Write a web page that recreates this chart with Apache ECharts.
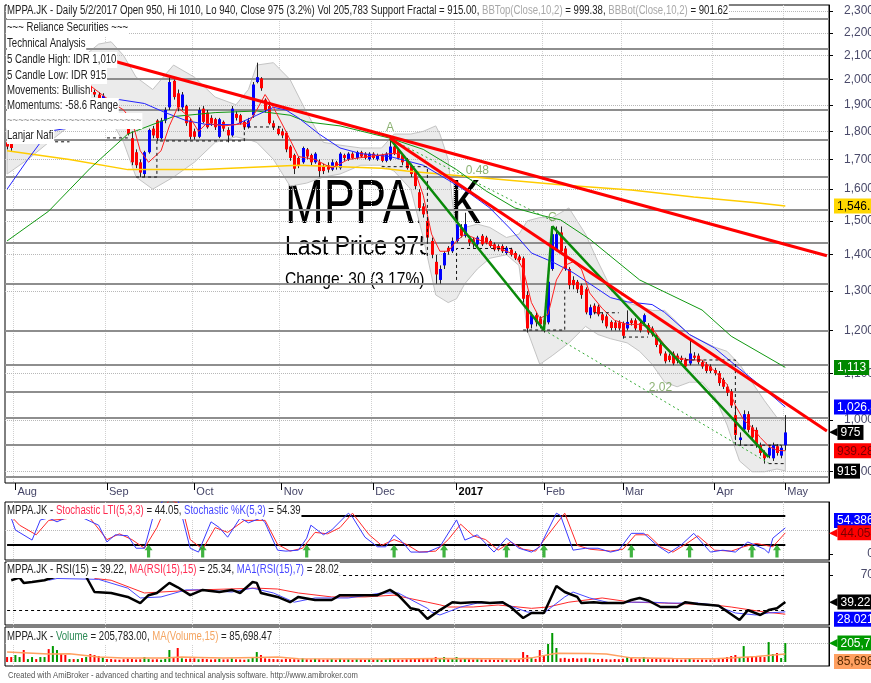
<!DOCTYPE html>
<html>
<head>
<meta charset="utf-8">
<script src="https://cdn.jsdelivr.net/npm/echarts@6/dist/echarts.min.js"></script>
<style>
  html, body { margin: 0; padding: 0; background: #fff; }
  #chart { width: 871px; height: 683px; }
</style>
</head>
<body>
<div id="chart"></div>
<script>
const SANS = '"Liberation Sans", Arial, sans-serif'

// daily bars, 28 Jul 2016 .. 2 May 2017 (index 0..187), 10 empty slots on the right
const opens = [
  1760,1765,1890,1900,1930,1915,1950,1975,1960,1990, 2010,1985,2020,2040,2010,1990,2000,1970,1985,1960,
  1975,1950,1940,1925,1900,1890,1880,1850,1845,1835, 1775,1725,1690,1650,1725,1810,1840,1775,1840,1890,
  1995,1945,1890,1895,1840,1800,1780,1885,1870,1850, 1845,1780,1835,1805,1785,1865,1860,1835,1815,1860,
  1990,2005,1920,1895,1830,1810,1800,1795,1745,1715, 1705,1690,1735,1715,1690,1690,1675,1680,1665,1690,
  1670,1715,1700,1720,1705,1725,1720,1700,1720,1700, 1715,1695,1700,1745,1735,1715,1700,1680,1660,1590,
  1545,1500,1440,1380,1330,1370,1420,1410,1440,1480, 1455,1445,1445,1430,1455,1450,1440,1430,1425,1425,
  1405,1415,1405,1395,1390,1290,1215,1238,1230,1225, 1220,1360,1415,1465,1418,1360,1330,1325,1315,1305,
  1238,1262,1260,1240,1235,1221,1220,1220,1218,1205, 1225,1225,1218,1221,1213,1205,1187,1166,1145,1140,
  1145,1140,1135,1130,1122,1140,1140,1125,1120,1115, 1107,1100,1085,1070,1060,1010,960,981,1012,985,
  980,950,935,930,925,948,930,950
]
const closes = [
  1745,1740,1900,1930,1915,1950,1975,1960,1990,2010, 1985,2020,2040,2010,1990,2000,1970,1985,1960,1975,
  1950,1940,1925,1935,1890,1880,1870,1845,1835,1790, 1690,1680,1655,1725,1805,1785,1775,1840,1880,1990,
  1930,1890,1940,1830,1780,1780,1880,1835,1815,1830, 1815,1845,1810,1785,1885,1850,1830,1815,1840,1980,
  2010,1965,1880,1830,1815,1790,1785,1735,1705,1668, 1680,1740,1710,1690,1720,1660,1660,1665,1690,1675,
  1720,1705,1720,1705,1725,1710,1705,1720,1705,1715, 1695,1720,1745,1720,1705,1690,1670,1650,1610,1540,
  1520,1450,1400,1345,1360,1405,1410,1440,1490,1455, 1490,1435,1430,1450,1430,1435,1425,1415,1415,1410,
  1420,1400,1390,1385,1280,1205,1238,1220,1215,1215, 1325,1460,1460,1410,1360,1316,1316,1305,1290,1245,
  1258,1245,1240,1225,1210,1206,1206,1205,1187,1221, 1218,1205,1200,1238,1195,1190,1165,1145,1127,1130,
  1122,1128,1130,1115,1145,1135,1125,1115,1105,1105, 1100,1078,1070,1057,1030,970,965,1012,980,965,
  950,935,925,945,950,935,945,975
]
const highs = [
  1775,1790,1910,1940,1945,1960,1990,1985,2000,2025, 2020,2035,2050,2045,2020,2010,2005,1995,1990,1985,
  1980,1960,1950,1945,1905,1895,1885,1855,1850,1840, 1800,1735,1700,1730,1810,1820,1845,1850,1890,2010,
  2000,1960,1950,1900,1850,1810,1890,1895,1880,1860, 1850,1850,1840,1815,1895,1875,1865,1840,1850,1990,
  2070,2010,1925,1910,1840,1820,1810,1800,1750,1720, 1710,1745,1740,1720,1725,1700,1685,1690,1700,1695,
  1725,1720,1725,1725,1730,1730,1725,1725,1725,1720, 1720,1725,1785,1750,1740,1720,1705,1685,1665,1600,
  1555,1510,1450,1400,1370,1410,1425,1450,1525,1490, 1525,1455,1450,1455,1460,1455,1445,1435,1430,1430,
  1425,1420,1410,1400,1395,1300,1245,1245,1235,1230, 1330,1483,1483,1483,1425,1365,1340,1330,1320,1310,
  1265,1268,1265,1245,1240,1225,1225,1225,1222,1250, 1230,1230,1222,1242,1218,1210,1192,1170,1150,1145,
  1150,1145,1140,1135,1180,1148,1145,1130,1125,1120, 1112,1105,1090,1075,1065,1030,975,1020,1018,990,
  985,955,940,950,955,952,950,1010
]
const lows = [
  1735,1730,1880,1895,1905,1910,1945,1950,1955,1985, 1975,1980,2010,2000,1980,1980,1960,1965,1950,1950,
  1940,1930,1915,1915,1885,1875,1865,1840,1830,1785, 1680,1670,1640,1640,1720,1775,1765,1770,1830,1880,
  1920,1875,1880,1820,1770,1770,1775,1830,1810,1820, 1805,1775,1800,1760,1780,1840,1825,1805,1810,1850,
  1985,1955,1870,1825,1805,1785,1775,1725,1695,1650, 1670,1685,1700,1680,1685,1640,1650,1655,1660,1665,
  1665,1695,1695,1700,1700,1705,1700,1695,1700,1695, 1690,1690,1695,1715,1700,1680,1665,1640,1600,1530,
  1510,1440,1390,1320,1320,1360,1400,1405,1435,1450, 1450,1425,1420,1425,1425,1430,1420,1410,1410,1405,
  1400,1395,1385,1375,1270,1195,1205,1210,1205,1195, 1215,1355,1410,1405,1355,1305,1305,1295,1280,1240,
  1230,1240,1235,1218,1205,1200,1200,1200,1180,1200, 1212,1200,1195,1215,1190,1185,1160,1140,1122,1125,
  1118,1122,1125,1110,1118,1130,1120,1110,1100,1100, 1095,1072,1065,1050,1025,960,950,975,975,960,
  945,930,915,925,920,930,925,940
]
const volumes = [
  54000,54000,76000,54000,130000,32000,54000,32000,54000,54000, 140000,173000,130000,87000,76000,32000,32000,32000,43000,54000,
  87000,76000,65000,54000,32000,32000,28000,25000,30000,35000, 32000,28000,30000,54000,32000,28000,30000,25000,35000,130000,
  43000,152000,40000,35000,38000,40000,30000,35000,32000,28000, 30000,35000,28000,30000,38000,30000,28000,25000,30000,45000,
  108000,76000,40000,35000,32000,30000,28000,35000,32000,30000, 28000,40000,30000,28000,35000,30000,25000,28000,32000,25000,
  35000,28000,30000,25000,30000,28000,25000,30000,28000,30000, 25000,30000,40000,30000,28000,25000,30000,32000,35000,40000,
  35000,38000,35000,54000,40000,54000,30000,35000,54000,30000, 40000,30000,28000,30000,28000,25000,28000,25000,25000,28000,
  30000,25000,28000,30000,108000,76000,43000,35000,130000,65000, 195000,314000,152000,40000,45000,35000,43000,38000,40000,45000,
  40000,35000,32000,35000,30000,28000,32000,30000,35000,54000, 43000,32000,35000,54000,30000,32000,35000,32000,30000,28000,
  30000,28000,25000,28000,35000,28000,25000,28000,25000,28000, 30000,35000,43000,54000,65000,76000,54000,173000,54000,65000,
  54000,60000,54000,216000,87000,98000,43000,205783
]

// overlays as [bar, value]
const bbUpper = [[0,1810],[5,1830],[10,1950],[15,2050],[20,2120],[22,2150],[25,2160],[28,2100],[31,2010],[35,1960],[40,2060],[45,2010],[50,1930],[55,1900],[58,1960],[60,2060],[64,2070],[68,2000],[72,1870],[76,1760],[80,1750],[85,1740],[90,1740],[93,1790],[97,1790],[100,1800],[103,1820],[104,1790],[106,1700],[107,1560],[108,1470],[110,1480],[113,1490],[116,1480],[120,1450],[123,1460],[125,1500],[128,1510],[131,1510],[135,1540],[139,1460],[142,1380],[145,1310],[149,1270],[152,1260],[155,1250],[158,1250],[161,1220],[164,1190],[167,1175],[170,1160],[173,1150],[176,1120],[179,1080],[182,1040],[185,1005],[187,999.38]]
const bbLower = [[0,1650],[5,1700],[10,1760],[15,1820],[20,1850],[22,1860],[25,1840],[28,1760],[31,1640],[35,1600],[40,1640],[45,1690],[50,1760],[55,1780],[58,1770],[60,1760],[64,1700],[68,1610],[72,1620],[76,1640],[80,1650],[85,1680],[90,1680],[93,1660],[97,1600],[100,1450],[103,1290],[106,1270],[108,1280],[110,1320],[113,1360],[116,1390],[120,1400],[123,1370],[125,1200],[128,1120],[131,1140],[135,1170],[139,1210],[142,1190],[145,1180],[149,1170],[152,1150],[155,1120],[158,1080],[161,1070],[164,1080],[167,1080],[170,1050],[173,990],[176,920],[179,900],[182,900],[185,905],[187,901.62]]
const maRed = [[0,1750],[2,1790],[6,1890],[10,1970],[15,2000],[20,1975],[26,1900],[28,1880],[30,1840],[32,1730],[34,1690],[37,1730],[39,1820],[41,1890],[44,1850],[46,1800],[48,1830],[52,1820],[55,1825],[58,1830],[60,1880],[62,1940],[64,1890],[67,1800],[70,1710],[74,1700],[78,1670],[82,1700],[87,1710],[92,1720],[95,1720],[98,1660],[100,1580],[102,1460],[104,1410],[106,1410],[108,1440],[110,1460],[114,1440],[118,1420],[122,1400],[124,1360],[126,1270],[128,1230],[130,1240],[132,1330],[134,1370],[136,1380],[138,1360],[140,1295],[143,1255],[146,1225],[149,1215],[152,1215],[155,1205],[158,1165],[161,1135],[164,1130],[167,1130],[170,1105],[173,1075],[175,1030],[177,1000],[179,985],[181,965],[183,948],[185,940],[187,939.28]]
const maBlue = [[0,1600],[5,1700],[10,1800],[14,1810],[20,1870],[27,1920],[33,1905],[38,1870],[43,1840],[48,1825],[55,1825],[60,1860],[64,1890],[67,1880],[70,1850],[75,1790],[80,1740],[85,1720],[92,1710],[96,1695],[100,1680],[106,1630],[111,1588],[116,1540],[121,1475],[126,1405],[131,1380],[136,1350],[140,1320],[145,1283],[149,1272],[155,1265],[158,1245],[164,1190],[170,1158],[176,1110],[182,1065],[187,1026.8]]
const maGreen = [[0,1440],[10,1530],[20,1670],[29,1790],[40,1855],[50,1870],[60,1876],[68,1860],[72,1835],[80,1820],[92,1775],[100,1735],[108,1665],[115,1595],[122,1540],[129,1515],[133,1503],[140,1445],[152,1330],[167,1251],[174,1186],[187,1113]]
const maYellow = [[0,1730],[15,1700],[29,1665],[47,1665],[70,1680],[90,1670],[96,1660],[108,1645],[120,1630],[135,1612],[150,1597],[165,1575],[180,1556],[187,1546.1]]

const redTrends = [[[26,2075],[197,1397]], [[92,1775],[197,978]]]
const greenTrends = [[[92,1773],[129,1201]], [[129,1201],[131,1484]], [[131,1484],[183,927]]]
const greenDotted = [[[92,1773],[131,1500]], [[129,1201],[183,916]]]
const fractals = [
  [[0,1762],[15,1762]],
  [[24,1776],[29,1776]],
  [[31,1640],[36,1640],[36,1765],[57,1765],[57,1816],[66,1816]],
  [[90,1675],[101,1675],[101,1390]],
  [[108,1330],[108,1418],[122,1418]],
  [[124,1201],[134,1201],[134,1303]],
  [[141,1244],[147,1244]],
  [[148,1184],[154,1184]],
  [[163,1130],[175,1130],[175,950],[186,950]],
  [[183,915],[187,915]]
]
const notes = [
  { i: 92, v: 1812, t: 'A' }, { i: 131, v: 1509, t: 'C' },
  { i: 113, v: 1660, t: '0.48' }, { i: 157, v: 1069, t: '2.02' }
]
const hLevels = [2265, 2130, 2005, 1880, 1770, 1640, 1535, 1435, 1320, 1200, 1120, 1060, 1005, 950, 890]
const priceTicks = [900, 1000, 1100, 1200, 1300, 1400, 1500, 1600, 1700, 1800, 1900, 2000, 2100, 2200, 2300]

const monthIdx = [2, 24, 45, 66, 88, 108, 129, 148, 170, 187]
const monthLabels = ['Aug', 'Sep', 'Oct', 'Nov', 'Dec', '2017', 'Feb', 'Mar', 'Apr', 'May']

const stochK = [[1,75],[2,50],[6,29],[8,71],[10,75],[12,67],[14,75],[15,75],[18,76],[22,60],[24,25],[26,40],[29,38],[31,12],[33,12],[35,75],[38,120],[41,115],[43,46],[44,12],[46,4],[49,67],[51,55],[53,35],[56,75],[58,65],[61,75],[62,65],[65,8],[67,6],[70,8],[72,33],[73,60],[76,40],[78,50],[82,85],[83,77],[86,35],[89,15],[91,15],[93,40],[95,25],[97,4],[101,4],[104,15],[105,29],[108,71],[110,29],[113,40],[117,4],[120,33],[123,12],[126,4],[128,15],[132,85],[133,80],[136,8],[139,12],[142,12],[145,4],[147,8],[150,43],[153,43],[156,19],[159,2],[162,19],[165,43],[169,4],[172,8],[175,4],[178,25],[182,10],[183,2],[184,33],[187,54.39]]
const stochLTI = [[1,78],[3,60],[7,40],[10,70],[13,72],[16,76],[20,74],[24,30],[27,42],[30,30],[33,12],[36,55],[39,115],[42,100],[44,30],[47,10],[50,55],[53,45],[57,70],[62,70],[65,20],[68,6],[71,12],[74,45],[77,42],[80,55],[83,85],[87,40],[90,18],[93,30],[96,20],[99,4],[103,6],[106,30],[109,62],[112,38],[115,30],[118,8],[121,25],[124,10],[127,6],[130,40],[134,85],[137,18],[140,10],[145,6],[148,10],[151,40],[154,40],[157,15],[160,4],[163,20],[166,38],[170,8],[174,6],[177,15],[180,22],[184,15],[187,44.05]]
const buySignals = [34, 47, 72, 93, 105, 120, 129, 150, 164, 179, 185]

const rsi = [[1,64],[3,67],[4,61],[6,62],[9,64],[14,72],[18,74],[19,68],[21,50.6],[25,49.5],[29,45],[32,38],[34,47],[36,49.5],[39,61],[41,56],[44,47],[47,53],[51,50.6],[54,53],[56,49.5],[59,62],[60,61],[61,49.5],[65,45],[68,39],[70,45],[74,41.5],[78,41.5],[80,47],[84,47],[89,47],[92,53],[94,47],[97,32],[99,30],[101,20],[104,30],[107,39],[109,38],[112,39],[114,39],[116,38],[119,39],[121,33.5],[124,21],[126,26.7],[129,26.7],[132,57.5],[134,50.6],[137,45],[138,38],[141,39],[143,38],[148,38],[150,41.5],[152,43.8],[154,41],[157,33.5],[161,33.5],[163,39],[166,37],[169,35.8],[171,35],[176,18.7],[178,30],[181,24.4],[183,30],[185,32],[187,39.22]]
const rsiMa15 = [[21,66],[25,64],[33,49.5],[46,53],[60,55],[65,54],[70,49.5],[78,45],[86,45],[93,47],[101,39],[104,36],[106,33.5],[112,33.5],[118,35.8],[126,32],[130,33.5],[135,39],[143,43.8],[150,39],[158,38],[170,35.8],[174,33.5],[182,27.8],[187,25.34]]
const rsiMa7 = [[10,64],[12,66],[22,65],[29,55],[32,43.8],[37,45],[43,53],[46,53],[54,50.6],[59,55],[64,49.5],[69,39],[74,43.8],[82,43.8],[90,49.5],[94,49.5],[101,32],[102,27.8],[104,24.4],[109,33.5],[113,38],[119,38],[125,27.8],[129,26.7],[134,45],[136,50.6],[140,43.8],[145,38],[150,39],[155,39],[159,38],[166,38],[170,35.8],[175,26.7],[180,24.4],[183,26.7],[187,28.02]]

const volMa = [[0,108000],[10,87000],[15,90000],[22,54000],[28,43000],[38,43000],[42,54000],[46,50000],[52,43000],[60,50000],[65,54000],[70,36000],[90,32000],[105,38000],[115,35000],[123,32000],[126,45000],[132,95000],[140,92000],[144,88000],[150,45000],[160,38000],[170,35000],[176,50000],[180,60000],[187,85698.47]]

const N = 198
const cats = Array.from({ length: N }, (_, i) => String(i))
const candles = opens.map((o, i) => [i, o, closes[i], lows[i], highs[i]])
const isMonth = (idx) => monthIdx.includes(idx)
const CLEAR = 'rgba(0,0,0,0)'

const chart = echarts.init(document.getElementById('chart'))

// header / pane captions: Arial squeezed to look like the narrow face of the original
function txt(x, y, text, extra) {
  return {
    type: 'text', x, y, z: 100, scaleX: 0.8,
    style: Object.assign({
      text, font: '12px ' + SANS, fill: '#222', textVerticalAlign: 'middle',
      backgroundColor: '#fff', padding: [2, 1, 2, 0],
    }, extra || {}),
  }
}

// value tag at the right edge; pointed ones get a little arrow in front of the box
function tag(v, text, bg, fg, opts) {
  const o = opts || {}
  const box = { backgroundColor: bg, color: fg, padding: [2, 3, 1, 3], fontFamily: SANS, fontSize: 12 }
  return {
    yAxis: v,
    lineStyle: { color: CLEAR, width: 0 },
    label: {
      show: true, position: 'end', distance: o.arrow ? 0 : 5,
      formatter: o.arrow ? '{a|◀}{t|' + text + '}' : '{t|' + text + '}',
      verticalAlign: o.va || 'middle',
      rich: {
        a: { color: bg, fontSize: 11, fontFamily: '"DejaVu Sans", sans-serif', padding: [0, 0, 0, 0] },
        t: box,
      },
    },
  }
}

function tagLayer(xi, yi, tags) {
  return {
    type: 'line', data: [], xAxisIndex: xi, yAxisIndex: yi, silent: true,
    markLine: {
      z: 30, symbol: ['none', 'none'], silent: true, animation: false,
      lineStyle: { color: CLEAR, width: 0 },
      data: tags,
    },
  }
}

function xAx(gi, main) {
  return {
    type: 'category', gridIndex: gi, data: cats, boundaryGap: true,
    axisLine: { show: false },
    axisTick: { show: main, alignWithLabel: true, interval: isMonth, length: 7, lineStyle: { color: '#000' } },
    axisLabel: main ? {
      interval: isMonth, align: 'left', margin: 3, padding: [0, 0, 0, 2],
      color: '#444466', fontFamily: SANS, fontSize: 11,
      formatter: (val, idx) => {
        const k = monthIdx.indexOf(idx)
        return k === 5 ? '{b|2017}' : monthLabels[k]
      },
      rich: { b: { fontWeight: 'bold', color: '#000', fontFamily: SANS, fontSize: 11 } },
    } : { show: false },
    splitLine: { show: true, interval: isMonth, lineStyle: { color: '#d0d0d0', type: 'dotted' } },
  }
}

// labels run off the right edge of the picture like in the original, so keep the grid fixed
const sideLabel = (vals) => ({
  customValues: vals, margin: 45, align: 'right', color: '#4a4a6a', fontFamily: SANS, fontSize: 12,
})

function sideAxis(gi, extra) {
  return Object.assign({
    type: 'value', gridIndex: gi, position: 'right',
    axisLine: { show: true, lineStyle: { color: '#000' } },
    splitLine: { show: false },
  }, extra)
}

const lineOf = (data, color, width, extra) => Object.assign({
  type: 'line', data, showSymbol: false, symbol: 'none', silent: true,
  lineStyle: { color, width }, z: 11,
}, extra || {})

const series = []

// Bollinger cloud (opaque, sits over the big caption text)
series.push({
  type: 'custom', xAxisIndex: 0, yAxisIndex: 0, z: 1, silent: true,
  data: [[0, 1500]],
  renderItem: (params, api) => {
    const pts = bbUpper.map(p => api.coord(p)).concat(bbLower.slice().reverse().map(p => api.coord(p)))
    return { type: 'polygon', shape: { points: pts }, style: { fill: '#ebebeb', stroke: '#c4c4c4', lineWidth: 1 } }
  },
})

// dotted tick levels and solid fractal levels
series.push({
  type: 'line', data: [], xAxisIndex: 0, yAxisIndex: 0, silent: true,
  markLine: {
    z: 3, symbol: ['none', 'none'], silent: true, label: { show: false }, animation: false,
    data: priceTicks.map(v => ({ yAxis: v, lineStyle: { color: '#b8b8b8', type: 'dotted', width: 1 } }))
      .concat(hLevels.map(v => ({ yAxis: v, lineStyle: { color: '#8e8e8e', type: 'solid', width: 2 } }))),
  },
})

// candles
series.push({
  type: 'custom', xAxisIndex: 0, yAxisIndex: 0, z: 10, silent: true,
  data: candles, encode: { x: 0, y: [1, 2, 3, 4] },
  renderItem: (params, api) => {
    const i = api.value(0), o = api.value(1), c = api.value(2), l = api.value(3), h = api.value(4)
    const pO = api.coord([i, o]), pC = api.coord([i, c]), pL = api.coord([i, l]), pH = api.coord([i, h])
    const x = Math.round(pO[0])
    const top = Math.min(pO[1], pC[1]), bot = Math.max(pO[1], pC[1])
    return {
      type: 'group', children: [
        { type: 'line', shape: { x1: x + 0.5, y1: pH[1], x2: x + 0.5, y2: pL[1] }, style: { stroke: '#222', lineWidth: 1 } },
        { type: 'rect', shape: { x: x - 1, y: top, width: 3, height: Math.max(bot - top, 1.5) }, style: { fill: c >= o ? '#0000ff' : '#ff0000' } },
      ],
    }
  },
})

series.push(lineOf(maYellow, '#ffcc00', 1.5))
series.push(lineOf(maGreen, '#119911', 1))
series.push(lineOf(maBlue, '#2222ff', 1))
series.push(lineOf(maRed, '#ff2020', 1))
fractals.forEach(seg => series.push(lineOf(seg, '#111', 1, { lineStyle: { color: '#111', width: 1, type: [3, 3] } })))
greenDotted.forEach(seg => series.push(lineOf(seg, '#33aa33', 1, { lineStyle: { color: '#33aa33', width: 1, type: [2, 3] }, z: 12 })))
greenTrends.forEach(seg => series.push(lineOf(seg, '#0a8a0a', 2.5, { z: 12 })))
redTrends.forEach(seg => series.push(lineOf(seg, '#ff0000', 3, { z: 13 })))

series.push({
  type: 'scatter', xAxisIndex: 0, yAxisIndex: 0, symbolSize: 0, z: 14, silent: true,
  data: notes.map(n => ({ value: [n.i, n.v], label: { formatter: n.t } })),
  label: { show: true, position: 'inside', color: '#6f9f4f', fontFamily: SANS, fontSize: 12 },
})

series.push(tagLayer(0, 0, [
  tag(1546.1, '1,546.1', '#ffd700', '#000'),
  tag(1113, '1,113', '#008800', '#fff'),
  tag(1026.8, '1,026.8', '#0000ff', '#fff'),
  tag(975, '975', '#000', '#fff', { arrow: true }),
  tag(939.28, '939.286', '#ff0000', '#7a0000'),
  tag(915, '915', '#000', '#fff', { va: 'top' }),
]))

// stochastic pane
series.push(lineOf(stochLTI, '#ff2a2a', 1, { xAxisIndex: 1, yAxisIndex: 1 }))
series.push(lineOf(stochK, '#3a3aff', 1, {
  xAxisIndex: 1, yAxisIndex: 1,
  markLine: {
    z: 3, symbol: ['none', 'none'], silent: true, label: { show: false }, animation: false,
    data: [
      { yAxis: 50, lineStyle: { color: '#b8b8b8', type: 'dotted', width: 1 } },
      [{ coord: [0, 80], lineStyle: { color: '#000', width: 2, type: 'solid' } }, { coord: [187, 80] }],
      [{ coord: [0, 20], lineStyle: { color: '#000', width: 2, type: 'solid' } }, { coord: [187, 20] }],
    ],
  },
}))
series.push({
  type: 'scatter', xAxisIndex: 1, yAxisIndex: 1, z: 12, silent: true,
  symbol: 'path://M5,0 L10,6 L7,6 L7,14 L3,14 L3,6 L0,6 Z', symbolSize: [8, 13],
  itemStyle: { color: '#11a011' },
  data: buySignals.map(i => [i, 6]),
})
series.push(tagLayer(1, 1, [
  tag(54.386, '54.386', '#0000ff', '#fff', { va: 'bottom' }),
  tag(44.054, '44.0546', '#ff0000', '#7a0000', { arrow: true }),
]))

// RSI pane
series.push(lineOf(rsiMa15, '#ff2a2a', 1, { xAxisIndex: 2, yAxisIndex: 2 }))
series.push(lineOf(rsiMa7, '#4a4aff', 1, { xAxisIndex: 2, yAxisIndex: 2 }))
series.push(lineOf(rsi, '#000', 2.5, {
  xAxisIndex: 2, yAxisIndex: 2, z: 12,
  markLine: {
    z: 3, symbol: ['none', 'none'], silent: true, label: { show: false }, animation: false,
    data: [
      [{ coord: [0, 70], lineStyle: { color: '#000', width: 1, type: [3, 3] } }, { coord: [187, 70] }],
      [{ coord: [0, 30], lineStyle: { color: '#000', width: 1, type: [3, 3] } }, { coord: [187, 30] }],
    ],
  },
}))
series.push(tagLayer(2, 2, [
  tag(39.2223, '39.2223', '#000', '#fff', { arrow: true }),
  tag(28.0211, '28.0211', '#0000ff', '#fff', { va: 'top' }),
]))

// volume pane
series.push({
  type: 'bar', xAxisIndex: 3, yAxisIndex: 3, barWidth: 2, silent: true, z: 10,
  data: volumes.map((v, i) => ({ value: v, itemStyle: { color: closes[i] >= opens[i] ? '#009900' : '#ff0000' } })),
  markLine: {
    z: 3, symbol: ['none', 'none'], silent: true, label: { show: false }, animation: false,
    data: [{ yAxis: 200000, lineStyle: { color: '#b8b8b8', type: 'dotted', width: 1 } }],
  },
})
series.push(lineOf(volMa, '#ffa060', 1.5, { xAxisIndex: 3, yAxisIndex: 3 }))
series.push(tagLayer(3, 3, [
  tag(205783, '205,783', '#009900', '#fff', { arrow: true }),
  tag(85698.47, '85,698.47', '#ffa060', '#5a2a00', { va: 'top' }),
]))

const F = '12px ' + SANS
const headRich = {
  k: { fill: '#222', font: F },
  g: { fill: '#a8a8a8', font: F },
  r: { fill: '#ff2a50', font: F },
  b: { fill: '#4646ff', font: F },
  v: { fill: '#2e8b57', font: F },
  o: { fill: '#f4a460', font: F },
}

const pane = (top, height) => ({
  left: 5, top, width: 824, height, show: true, borderColor: '#000', borderWidth: 1,
  outerBoundsMode: 'none',
})

const option = {
  animation: false,
  backgroundColor: '#fff',
  grid: [pane(5, 478), pane(502, 58), pane(562, 63), pane(627, 39)],
  xAxis: [xAx(0, true), xAx(1, false), xAx(2, false), xAx(3, false)],
  yAxis: [
    {
      type: 'log', logBase: 10, gridIndex: 0, position: 'right', min: 879.6, max: 2328,
      axisLine: { show: true, lineStyle: { color: '#000' } },
      axisTick: { show: true, customValues: priceTicks, length: 4, lineStyle: { color: '#000' } },
      minorTick: { show: false },
      axisLabel: Object.assign(sideLabel(priceTicks), { formatter: v => Number(v).toLocaleString('en-US') }),
      splitLine: { show: false },
    },
    sideAxis(1, {
      min: -12.5, max: 108.3,
      axisTick: { show: true, customValues: [0], length: 4 },
      axisLabel: sideLabel([0]),
    }),
    sideAxis(2, {
      min: 13, max: 84.8,
      axisTick: { show: true, customValues: [70], length: 4 },
      axisLabel: sideLabel([70]),
    }),
    sideAxis(3, { min: -43000, max: 379000, axisTick: { show: false }, axisLabel: { show: false } }),
  ],
  graphic: [
    // big captions behind the price pane
    { type: 'text', x: 285, y: 206, z: 0, scaleX: 0.74, style: { text: 'MPPA.JK', font: '63px ' + SANS, fill: '#000', textVerticalAlign: 'middle' } },
    { type: 'text', x: 285, y: 247, z: 0, scaleX: 0.82, style: { text: 'Last Price 975', font: '28px ' + SANS, fill: '#000', textVerticalAlign: 'middle' } },
    { type: 'text', x: 285, y: 280, z: 0, scaleX: 0.82, style: { text: 'Change: 30 (3.17%)', font: '19px ' + SANS, fill: '#000', textVerticalAlign: 'middle' } },
    // header notes
    txt(7, 11, '{k|MPPA.JK - Daily 5/2/2017 Open 950, Hi 1010, Lo 940, Close 975 (3.2%) Vol 205,783 Support Fractal = 915.00, }{g|BBTop(Close,10,2)}{k| = 999.38, }{g|BBBot(Close,10,2)}{k| = 901.62}', { rich: headRich }),
    txt(7, 28, '~~~ Reliance Securities ~~~'),
    txt(7, 44, 'Technical Analysis'),
    txt(7, 60, '5 Candle High: IDR 1,010'),
    txt(7, 76, '5 Candle Low: IDR 915'),
    txt(7, 91, 'Movements: Bullish'),
    txt(7, 106, 'Momentums: -58.6 Range'),
    txt(7, 121, '~~~~~~~~~~~~~~~~~~~~~~~~', { fill: '#9a9a9a' }),
    txt(7, 136, 'Lanjar Nafi'),
    txt(7, 511, '{k|MPPA.JK - }{r|Stochastic LTI(5,3,3)}{k| = 44.05, }{b|Stochastic %K(5,3)}{k| = 54.39}', { rich: headRich }),
    txt(7, 570, '{k|MPPA.JK - RSI(15) = 39.22, }{r|MA(RSI(15),15)}{k| = 25.34, }{b|MA1(RSI(15),7)}{k| = 28.02}', { rich: headRich }),
    txt(7, 637, '{k|MPPA.JK - }{v|Volume}{k| = 205,783.00, }{o|MA(Volume,15)}{k| = 85,698.47}', { rich: headRich }),
    { type: 'text', x: 8, y: 676, z: 100, scaleX: 0.85, style: { text: 'Created with AmiBroker - advanced charting and technical analysis software. http://www.amibroker.com', font: '9px ' + SANS, fill: '#555', textVerticalAlign: 'middle' } },
  ],
  series,
}

chart.setOption(option)
</script>
</body>
</html>
